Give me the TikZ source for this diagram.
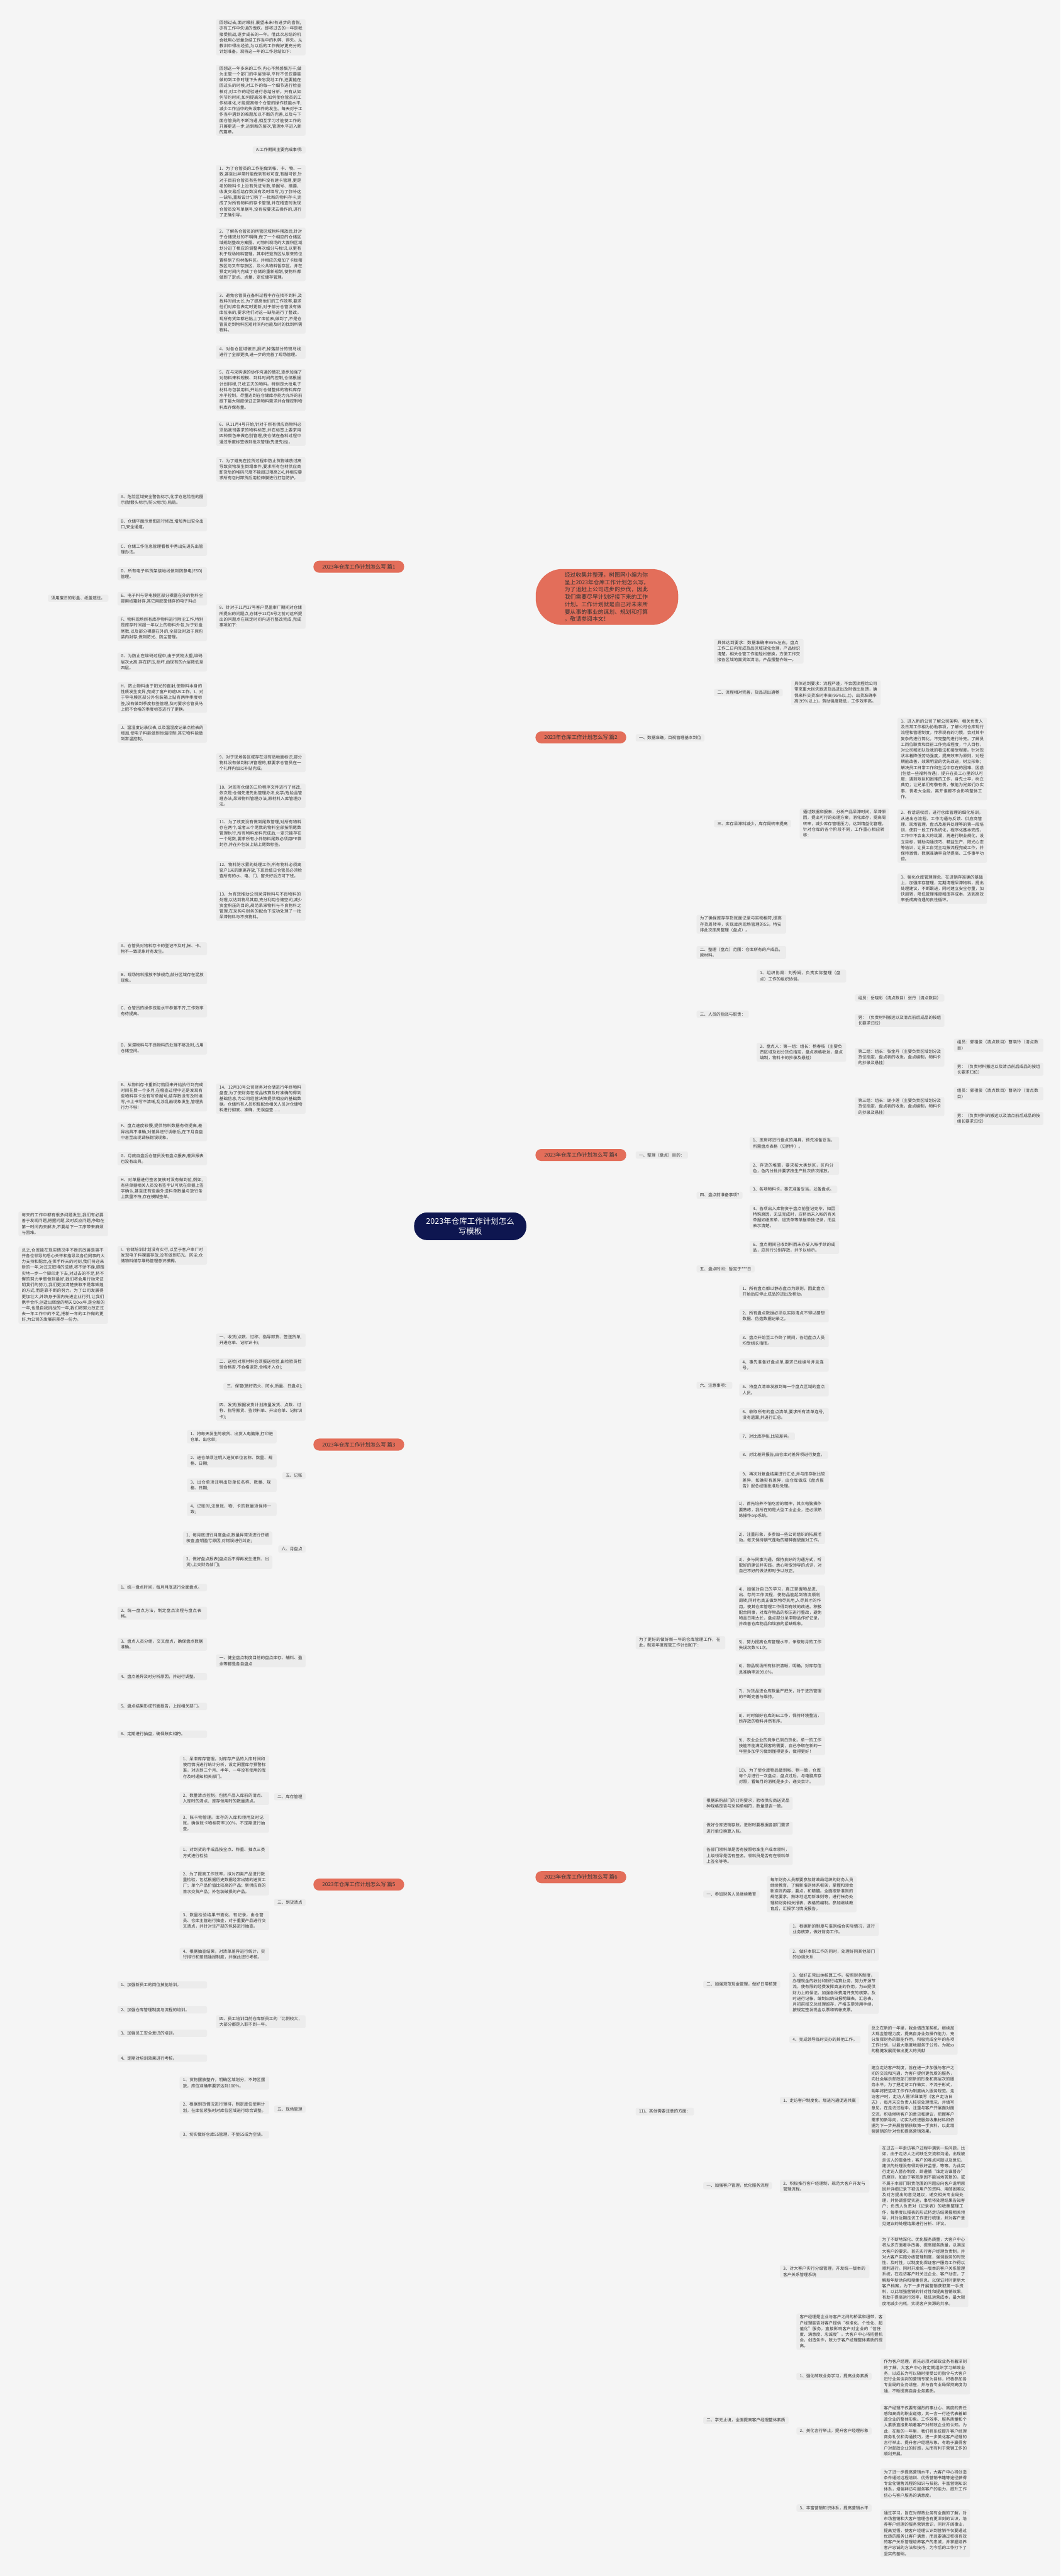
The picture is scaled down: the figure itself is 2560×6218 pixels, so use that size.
\documentclass[tikz,border=0pt]{standalone}
\usepackage{fontspec}
\setmainfont{Noto Sans CJK SC}
\XeTeXlinebreaklocale "zh"
\XeTeXlinebreakskip = 0pt plus 1pt
\usetikzlibrary{calc}
\pgfdeclarelayer{bg}
\pgfsetlayers{bg,main}
\definecolor{bgc}{RGB}{245,245,245}
\definecolor{boxc}{RGB}{236,236,236}
\definecolor{txt}{RGB}{51,51,51}
\definecolor{navy}{RGB}{14,22,80}
\definecolor{salmon}{RGB}{227,110,90}
\definecolor{linec}{RGB}{24,30,76}
\tikzset{
  tl/.style={fill=boxc, rounded corners=2pt, text=txt, font=\fontsize{5}{7}\selectfont, inner xsep=4pt, inner ysep=2pt, align=left},
  tw/.style={tl, text width=100pt},
  conn/.style={draw=linec, line width=1pt, rounded corners=5pt},
  mainln/.style={draw=linec, line width=1.1pt},
  pill/.style={fill=salmon, rounded corners=7pt, text=txt, font=\fontsize{6.3}{8}\selectfont, minimum width=109.5pt, minimum height=14.5pt, inner sep=1pt},
  rootn/.style={fill=navy, rounded corners=16pt, text=white, font=\fontsize{9.5}{12.5}\selectfont, minimum width=135.5pt, minimum height=33.5pt, align=center},
  summ/.style={fill=salmon, rounded corners=32pt, text=txt, font=\fontsize{6.7}{8.9}\selectfont, minimum width=172pt, minimum height=67.5pt, align=left}
}
\newcommand\myR[3]{\draw[conn] (#1.east) -- (#2 |- #1.east) |- (#3.west);}
\newcommand\myL[3]{\draw[conn] (#1.west) -- (#2 |- #1.west) |- (#3.east);}
\begin{document}
\begin{tikzpicture}[x=0.5pt,y=-0.5pt]
\fill[bgc] (0,0) rectangle (2560,6218);
\useasboundingbox (0,0) rectangle (2560,6218);

% bracket x coordinates
\coordinate (bx1) at (747,0);
\coordinate (bxA) at (510,0);
\coordinate (bxC) at (509,0);
\coordinate (bxI) at (272,0);
\coordinate (bx3) at (747,0);
\coordinate (bx3a) at (677,0);
\coordinate (bx3b) at (667,0);
\coordinate (bx5) at (747,0);
\coordinate (bx5a) at (510,0);
\coordinate (bx5b) at (658,0);
\coordinate (bx2a) at (1710,0);
\coordinate (bx2c) at (2155,0);
\coordinate (bx4a) at (1668,0);
\coordinate (bx4c) at (1811,0);
\coordinate (bx4c2) at (2050,0);
\coordinate (bx4c3) at (2289,0);
\coordinate (bx4d) at (1796,0);
\coordinate (bx4f) at (1769,0);
\coordinate (bx6) at (1523,0);
\coordinate (bx6a) at (1760,0);
\coordinate (bx6b) at (1683,0);
\coordinate (bx6e) at (1891,0);
\coordinate (bx6f) at (1871,0);
\coordinate (bx6g) at (1911,0);
\coordinate (bx6g3) at (2115,0);

% root and branches
\node[rootn] (root) at (1135,2960) {2023年仓库工作计划怎么\\写模板};
\node[summ] (sum) at (1465,1441) {经过收集并整理，树图网小编为你\\呈上2023年仓库工作计划怎么写。\\为了追赶上公司进步的步伐，因此\\我们需要尽早计划好接下来的工作\\计划。工作计划就是自己对未来所\\要从事的事业的谋划、规划和打算\\。敬请参阅本文！};
\node[pill] (p1) at (866,1368) {2023年仓库工作计划怎么写 篇1};
\node[pill] (p2) at (1402,1780) {2023年仓库工作计划怎么写 篇2};
\node[pill] (p3) at (866,3487) {2023年仓库工作计划怎么写 篇3};
\node[pill] (p4) at (1402,2788) {2023年仓库工作计划怎么写 篇4};
\node[pill] (p5) at (866,4549) {2023年仓库工作计划怎么写 篇5};
\node[pill] (p6) at (1402,4531) {2023年仓库工作计划怎么写 篇6};

% ---------- 篇1 ----------
\node[tw,anchor=east] (a1) at (738,90) {回想过去,面对眼前,展望未来!有进步的喜悦,亦有工作中失误的愧疚。即将过去的一年是我接受挑战,逐步成长的一年。借此次总结的机会我用心思量总结工作当中的利弊、得失。从教训中得出经验,为以后的工作做好更充分的计划准备。现将这一年的工作总结如下:};
\node[tw,anchor=east] (a2) at (738,242) {回想这一年多来的工作,内心不禁感慨万千,做为主管一个部门的中层领导,平时不仅仅要能做的到工作时埋下头去忘我地工作,还要能在回过头的时候,对工作的每一个细节进行检查核对,对工作的经验进行总结分析。只有从如何节约时间,如何提高效率,如何使仓管员的工作标准化,才能提高每个仓管的操作技能水平,减少工作当中的失误事件的发生。每天对于工作当中遇到的难题加以不断的完善,以及与下面仓管员的不断沟通,相互学习才能使工作的开展更进一步,达到新的层次,管理水平进入新的篇章。};
\node[tl,anchor=east] (a3) at (738,362) {A:工作期间主要完成事项:};
\node[tw,anchor=east] (a4) at (738,463) {1、为了仓管员的工作能做到帐、卡、物、一致,甚至出异常时能做到有帐可查,有据可依,针对于目前仓管员有些物料没有建卡管理,更是老的物料卡上没有凭证号数,单据号、摘要、收发交易后结存数没有及时填写,为了弥补这一缺陷,重新设计订购了一批新的物料存卡,完成了对所有物料的存卡管理,并在稽查时发现仓管员没写单据号,没有按要求去操作的,进行了正确引导。};
\node[tw,anchor=east] (a5) at (738,614) {2、了解各仓管员的所管区域物料摆放后,针对于仓储规划的不明确,做了一个相应的仓储区域规划整改方案图。对物料现场的大面积区域划分进了相应的调整再次细分与标识,以更有利于现场物料管理。其中把退货区从原来的位置移到了包材备料区。并相应的增加了卡板摆放区与叉车存放区、及公共物料暂存区。并在预定时间内完成了仓储的重新规划,使物料都做到了定点、点量、定位储存管理。};
\node[tw,anchor=east] (a6) at (738,755) {3、避免仓管员在备料过程中存在找不到料,及找料时间太长,为了提高他们的工作效率,要求他们对库位表定时更新,对于部分仓管没有做库位表的,要求他们对这一缺陷进行了整改。现所有货架都已贴上了库位表,做到了,不是仓管员走到物料区短时间内也能及时的找到所需物料。};
\node[tw,anchor=east] (a7) at (738,850) {4、对各仓区域破旧,损坏,掉落部分的斑马线进行了全部更换,进一步的完善了现场管理。};
\node[tw,anchor=east] (a8) at (738,941) {5、在与采购课的协作沟通的情况,逐步加强了对物料来料规模、到料时间的控制,仓储根据计划排程,只收五天的物料。特别是大批电子材料与包装用料,开始对仓储整体的物料库存水平控制。尽量达到在仓储库存能力允许的前提下最大限度保证正常物料需求并合理控制物料库存保有量。};
\node[tw,anchor=east] (a9) at (738,1046) {6、从11月4号开始,针对于所有供应商物料必须贴我司要求的物料标签,并在标签上要求用四种颜色来做色别管理,使仓储在备料过程中通过季度标签做到批次管理(先进先出)。};
\node[tw,anchor=east] (a10) at (738,1133) {7、为了避免在拉货过程中防止货物堆放过高导致货物发生倒塌事件,要求所有包材供应商卸货后的堆码尺度不能超过限高2米,并相应要求所有包材卸货后用拉伸膜进行打包防护。};
\node[tw,anchor=east] (a11) at (738,1488) {8、针对于11月27号客户昆盈审厂期间对仓储所提出的问题点,仓储于12月5号之前对这所提出的问题点在规定时间内进行整改完成,完成事项如下:};
\node[tw,anchor=east] (a12) at (738,1841) {9、对于现场各区域存在没有贴地面标识,部分物料没有做到标识管理的,都要求仓管员在一个礼拜内加以补贴完成。};
\node[tw,anchor=east] (a13) at (738,1921) {10、对现有仓储的三阶程序文件进行了修改,依次是:仓储先进先出管理办法,化学/危险品管理办法,呆滞物料管理办法,原材料入库管理办法。};
\node[tw,anchor=east] (a14) at (738,2012) {11、为了改变没有做到尾数管理,对所有物料存在两个,或者三个尾数的物料全部按照尾数管理执行,所有物料发料完成后,一定只能存在一个尾数,要求所有小件物料尾数必须用PE袋封存,并在外包装上贴上尾数标签。};
\node[tw,anchor=east] (a15) at (738,2101) {12、物料防水雾的处理工作,所有物料必须离窗户1米的距离存放,下班后值日仓管员必须检查所有的水、电、门、窗关好后方可下班。};
\node[tw,anchor=east] (a16) at (738,2186) {13、为有效推动公司呆滞物料与不良物料的处理,以达到物尽其用,充分利用仓储空间,减少资金积压的目的,规范呆滞物料与不良物料之管理,在采购与财务的配合下成功处理了一批呆滞物料与不良物料。};
\node[tw,anchor=east] (a17) at (738,2652) {14、12月30号公司财务对仓储进行年终物料盘查,为了使财务在成品核算及时准确的得到基础信息,为公司经营决策提供相应的基础数据。仓储所有人员积极配合相关人员对仓储物料进行彻底、准确、无误盘查......};

\node[tw,anchor=east] (b1) at (500,1207) {A、危险区域安全警告标示,化学仓危险性的图示(骷髅头标示/防火标示),粘贴。};
\node[tw,anchor=east] (b2) at (500,1266) {B、仓储平面示意图进行修改,增加秀出安全出口,安全通道。};
\node[tw,anchor=east] (b3) at (500,1326) {C、仓储工作信息管理看板中秀出先进先出管理办法。};
\node[tw,anchor=east] (b4) at (500,1385) {D、所有电子料货架接地线做到防静电(ESD)管理。};
\node[tw,anchor=east] (b5) at (500,1445) {E、电子料与导电膜区部分裸露在外的物料全部用纸箱封存,其它用胶筐储存的电子料必};
\node[tl,anchor=east] (b5c) at (262,1444) {须用废旧的彩盒、纸盖遮住。};
\node[tw,anchor=east] (b6) at (500,1517) {F、物料现场所有库存物料进行除尘工作,特别是库存时间超一年以上的物料外包,对于彩盒尾数,以及部分裸露在外的,全部及时放于原包装内封存,做到防光、防尘管理。};
\node[tw,anchor=east] (b7) at (500,1598) {G、为防止在堆码过程中,由于货物太重,堆码层次太高,存在挤压,损坏,由现有的六层降低至四层。};
\node[tw,anchor=east] (b8) at (500,1684) {H、防止物料由于阳光的直射,使物料本身的性质发生变异,完成了窗户的遮UV工作。I、对于导电膜区部分外包装箱上贴有两种季度标签,没有做到季度标签管理,及时要求仓管员马上把不合格的季度标签进行了更换。};
\node[tw,anchor=east] (b9) at (500,1770) {J、温湿度记录仪表,以及温湿度记录点检表的增加,使电子料能做到恒温控制,其它物料能做到常温控制。};

\node[tw,anchor=east] (c1) at (500,2290) {A、仓管员对物料存卡的登记不及时,帐、卡、物不一致现象时有发生。};
\node[tw,anchor=east] (c2) at (500,2360) {B、现场物料摆放不够规范,部分区域存在混放现象。};
\node[tw,anchor=east] (c3) at (500,2440) {C、仓管员的操作技能水平参差不齐,工作效率有待提高。};
\node[tw,anchor=east] (c4) at (500,2530) {D、呆滞物料与不良物料的处理不够及时,占用仓储空间。};
\node[tw,anchor=east] (c5) at (500,2646) {E、从物料存卡重新订购回来开始执行到完成时间花费一个多月,在稽查过程中还是发现有些物料存卡没有写单据号,结存数没有及时填写,卡上书写不清晰,乱涂乱画现象发生,管理执行力不够!};
\node[tw,anchor=east] (c6) at (500,2732) {F、盘点速度较慢,提供物料数据有待提高,差异出具不准确,对差异进行调帐后,在下月自盘中甚至出现调帐错误现象。};
\node[tw,anchor=east] (c7) at (500,2797) {G、月底自盘后仓管员没有盘点报表,差异报表也没有出具。};
\node[tw,anchor=east] (c8) at (500,2869) {H、对单据进行签名复核时没有做到位,例如,有些单据相关人员没有签字认可就在单据上签字确认,甚至还有些委外送料单数量与放行条上数量不符,存在模糊签单。};
\node[tw,anchor=east] (c9) at (500,3030) {I、仓储培训计划没有实行,以至于客户审厂时发现电子料裸露存放,没有做到防光、防尘,仓储物料储存堆码管理意识模糊。};
\node[tw,anchor=east] (d1) at (261,2954) {每天的工作中都有很多问题发生,我们有必要善于发现问题,把握问题,及时反应问题,争取在第一时间内去解决,不要给下一工序带来麻烦与困难。};
\node[tw,anchor=east] (d2) at (261,3102) {总之,仓库能在现实情况中不断的改善是离不开各位领导的悉心关怀和指导及各位同事的大力支持和配合,在挥手昨天的时刻,我们将迎来新的一年,对过去取得的成绩,将不骄不躁,脚踏实地一步一个脚印走下去,对过去的不足,将不懈的努力争取做到最好,我们将会用行动来证明我们的努力,我们更加清楚获取不是靠辉煌的方式,而是靠不断的努力。为了公司发展得更加壮大,并跻身于国内先进企业行列,让我们携手合作,创造出辉煌的明天!20xx年,是全新的一年,也是自我挑战的一年,我们将努力改正过去一年工作中的不足,把新一年的工作做的更好,为公司的发展前景尽一份力。};

% ---------- 篇3 ----------
\node[tw,anchor=east] (e1) at (738,3235) {一、收货(点数、过称、指导卸货、签送货单,开进仓单、记标识卡);};
\node[tw,anchor=east] (e2) at (738,3294) {二、送检(对原材料仓须报送检验,由检验员检验合格否,不合格退货,合格才入仓);};
\node[tl,anchor=east] (e3) at (738,3347) {三、保管(做好防火、防水,质量、日盘点);};
\node[tw,anchor=east] (e4) at (738,3406) {四、发货(根据发货计划按量发货、点数、过称、指导搬货、签领料单、开出仓单、记标识卡);};
\node[tl,anchor=east] (e5) at (738,3562) {五、记账};
\node[tl,anchor=east] (e6) at (738,3739) {六、月盘点};
\node[tw,anchor=east] (e5a) at (668,3468) {1、将每天发生的收货、出货入电脑账,打印进仓单、出仓单;};
\node[tw,anchor=east] (e5b) at (668,3526) {2、进仓单须注明入送货单位名称、数量、规格、日期;};
\node[tw,anchor=east] (e5c) at (668,3585) {3、出仓单须注明出货单位名称、数量、规格、日期;};
\node[tw,anchor=east] (e5d) at (668,3643) {4、记账时,注意账、物、卡的数量须保持一致;};
\node[tw,anchor=east] (e6a) at (658,3713) {1、每月底进行月度盘点,数量异常须进行仔细核查,查明盈亏原因,对错误进行纠正;};
\node[tw,anchor=east] (e6b) at (658,3771) {2、做好盘点报表(盘点后不得再发生进货、出货),上交财务部门);};

% ---------- 篇5 ----------
\node[tw,anchor=east] (f1) at (738,4009) {一、健全盘点制度目前的盘点库存、辅料、盈余等都是各自盘点};
\node[tl,anchor=east] (f2) at (738,4337) {二、库存管理};
\node[tl,anchor=east] (f3) at (738,4592) {三、到货清点};
\node[tw,anchor=east] (f4) at (738,4880) {四、员工培训目前仓库新员工的`比例较大，大部分都是入职不到一年。};
\node[tl,anchor=east] (f5) at (738,5091) {五、现场管理};
\node[tw,anchor=east] (f1a) at (500,3832) {1、统一盘点时间，每月月底进行全面盘点。};
\node[tw,anchor=east] (f1b) at (500,3894) {2、统一盘点方法，制定盘点流程与盘点表格。};
\node[tw,anchor=east] (f1c) at (500,3969) {3、盘点人员分组，交叉盘点，确保盘点数据准确。};
\node[tw,anchor=east] (f1d) at (500,4047) {4、盘点差异及时分析原因，并进行调整。};
\node[tw,anchor=east] (f1e) at (500,4119) {5、盘点结果形成书面报告，上报相关部门。};
\node[tw,anchor=east] (f1f) at (500,4186) {6、定期进行抽盘，确保账实相符。};
\node[tw,anchor=east] (f2a) at (650,4267) {1、呆滞库存管理。对库存产品的入库时间和使用情况进行统计分析，设定闲置库存预警标准，对达到三个月、半年、一年没有使用的库存及时通知相关部门。};
\node[tw,anchor=east] (f2b) at (650,4341) {2、数量清点控制。包括产品入库前的清点、入库时的清点、库存领用时的数量清点。};
\node[tw,anchor=east] (f2c) at (650,4401) {3、账卡物管理。库存的入库和领用及时记账，确保账卡物相符率100\%，不定期进行抽查。};
\node[tw,anchor=east] (f3a) at (650,4472) {1、对到货的半成品按全点、称重、抽点三类方式进行检验};
\node[tw,anchor=east] (f3b) at (650,4545) {2、为了提高工作效率，拟对四类产品进行数量检验，包括根据历史数据经常出错的送货工厂；单个产品价值比较高的产品；新供应商的首次交货产品；外包装破损的产品。};
\node[tw,anchor=east] (f3c) at (650,4636) {3、数量检验结果书面化，有记录，由仓管员、仓库主管进行抽查，对于重要产品进行交叉清点，并针对生产部的包装进行抽查。};
\node[tw,anchor=east] (f3d) at (650,4717) {4、根据抽查结果，对清单差异进行统计，实行排行和差错通报制度，并据此进行考核。};
\node[tw,anchor=east] (f4a) at (500,4791) {1、加强新员工的岗位技能培训。};
\node[tw,anchor=east] (f4b) at (500,4851) {2、加强仓库管理制度与流程的培训。};
\node[tw,anchor=east] (f4c) at (500,4908) {3、加强员工安全意识的培训。};
\node[tw,anchor=east] (f4d) at (500,4968) {4、定期对培训效果进行考核。};
\node[tw,anchor=east] (f5a) at (650,5028) {1、货物摆放整齐，明确区域划分，不跨区摆放，库位准确率要求达到100\%。};
\node[tw,anchor=east] (f5b) at (650,5087) {2、根据到货情况进行预排，制定库位使用计划，在库位紧张时对库位区域进行综合调整。};
\node[tw,anchor=east] (f5c) at (650,5153) {3、切实做好仓库5S管理，不使5S成为空谈。};

% ---------- 篇2 ----------
\node[tl,anchor=west] (g1) at (1534,1781) {一、数据准确，目视管理基本到位};
\node[tw,anchor=west] (g1a) at (1723,1572) {具体达到要求：数据准确率95\%左右，盘点工作二日内完成货品区域规化合理，产品标识清楚，相关仓管工作能轻松替换，方便工作交接各区域地面货架清洁，产品摆整齐统一。};
\node[tl,anchor=west] (g1b) at (1723,1672) {二、流程相对完善，货品进出通畅};
\node[tw,anchor=west] (g1b1) at (1909,1672) {具体达到要求：流程严谨，不会因流程给公司带来重大损失跟进货品进出及时做出反馈，确保来料交货准时率高(95\%以上)，出货准确率高(99\%以上)，劳动强度降低，工作效率高。};
\node[tl,anchor=west] (g1c) at (1723,1988) {三、库存呆滞料减少，库存周转率提高};
\node[tw,anchor=west] (g1c1) at (1930,1988) {通过数据和报表，分析产品呆滞时间，呆滞原因，提出可行的处理方案，消化库存，提高周转率，减少库存管理压力，达到精益化管理。针对仓库的各个阶段不同，工作重心相应转移：};
\node[tw,anchor=west] (g1c1a) at (2166,1832) {1、进入新的公司了解公司架构，相关负责人及日常工作相为协助事项，了解公司仓库现行流程和管理制度，传承现有的习惯，会对其中复杂的进行简化，不完整的进行补充。了解员工岗位职责和目前工作完成程度，个人目标，对公司和团队及我的看法和接受程度。针对现状本着降低劳动强度，提高效率为原则，对短期能改善，效果明显的优先改进，树立形象；解决员工日常工作和生活中存在的困难、困惑(包括一些福利待遇)，提升在员工心里的认可度；遇到艰巨和困难的工作，身先士卒，树立典范；让兄弟们有敬有畏，敬能为兄弟们办实事，畏老大全能，离开谁都不会影响整体工作。};
\node[tw,anchor=west] (g1c1b) at (2166,2018) {2、有话语权后，进行仓库管理的细化培训，从进出仓流程、工作沟通与反馈、供应商管理、现场管理，盘点及差异处理等的第一段培训，使前一段工作系统化，程序化基本完成，工作中不会出大的纰漏，再进行职业规化，设立目标，辅助沟通技巧、精益生产、阳光心态等培训，让员工自觉主动按流程完成工作，并保持激情。数据准确率自然提高、工作事半功倍。};
\node[tw,anchor=west] (g1c1c) at (2166,2145) {3、强化仓库管理理念，在进销存准确的基础上，加强库存管理，定期清理呆滞物料，提出处理建议，不断跟进，同时建立安全存量，加快周转，降低管理难度和库存成本，达到高效率低成高待遇的良性循环。};

% ---------- 篇4 ----------
\node[tl,anchor=west] (h1) at (1534,2788) {一、整理（盘点）目的：};
\node[tw,anchor=west] (h1a) at (1681,2231) {为了确保库存存货账面记录与实物相符,提高存货周转率，实现库房现场管理的5S，特安排此次库房整理（盘点）。};
\node[tw,anchor=west] (h1b) at (1681,2299) {二、整理（盘点）范围：仓库所有的产成品，原材料。};
\node[tl,anchor=west] (h1c) at (1681,2448) {三、人员的指派与职责：};
\node[tw,anchor=west] (h1c1) at (1826,2356) {1、组织协调：刘秀娟，负责实际整理（盘点）工作的组织协调。};
\node[tw,anchor=west] (h1c2) at (1826,2540) {2、盘点人：第一组：组长：杨春枝（主要负责区域及划分货位指定，盘点表格收发，盘点编制，物料卡的抄录及悬挂）};
\node[tw,anchor=west] (h1c2a) at (2063,2409) {组员：岳晓彩（清点数目）张丹（清点数目）};
\node[tw,anchor=west] (h1c2b) at (2063,2463) {男：（负责材料搬运以及清点前后成品的按组长要求归位）};
\node[tw,anchor=west] (h1c2c) at (2063,2552) {第二组：组长：张金丹（主要负责区域划分及货位指定，盘点表的收发，盘点编制，物料卡的抄录及悬挂）};
\node[tw,anchor=west] (h1c2c1) at (2302,2523) {组员：郭祖俊（清点数目）曹晓玲（清点数目）};
\node[tw,anchor=west] (h1c2c2) at (2302,2581) {男：（负责材料搬运以及清点前后成品的按组长要求归位）};
\node[tw,anchor=west] (h1c2d) at (2063,2671) {第三组：组长：谢小莲（主要负责区域划分及货位指定，盘点表的收发，盘点编制，物料卡的抄录及悬挂）};
\node[tw,anchor=west] (h1c2d1) at (2302,2640) {组员：郭祖俊（清点数目）曹晓玲（清点数目）};
\node[tw,anchor=west] (h1c2d2) at (2302,2700) {男：（负责材料的搬运以及清点前后成品的按组长要求归位）};
\node[tl,anchor=west] (h1d) at (1681,2885) {四、盘点前准备事项?};
\node[tw,anchor=west] (h1d1) at (1809,2760) {1、库房将进行盘点的用具，预先准备妥当，所需盘点表格（见附件）。};
\node[tw,anchor=west] (h1d2) at (1809,2820) {2、存货的堆置，要求按大类划区，区内分色，色内分批并要求按生产批次依次摆放。};
\node[tl,anchor=west] (h1d3) at (1809,2871) {3、各项物料卡，事先准备妥当，以备盘点。};
\node[tw,anchor=west] (h1d4) at (1809,2938) {4、各项出入库物资于盘点前登记完毕，如因特殊原因，无法完成时，应将尚未入帐的有关单据如缴库单、退货单等单据单独记录，而且表示清楚。};
\node[tw,anchor=west] (h1d6) at (1809,3011) {6、盘点期间已收到料而未办妥入帐手续的成品，应另行分别存放，并予以标示。};
\node[tl,anchor=west] (h1e) at (1681,3063) {五、盘点时间：暂定于***日};
\node[tl,anchor=west] (h1f) at (1681,3344) {六、注意事项：};
\node[tw,anchor=west] (h1f1) at (1784,3117) {1、所有盘点都以静态盘点为原则，因此盘点开始后应停止成品的进出及移动。};
\node[tw,anchor=west] (h1f2) at (1784,3176) {2、所有盘点数据必须以实际清点不得以猜想数据、伪造数据记录之。};
\node[tw,anchor=west] (h1f3) at (1784,3236) {3、盘点开始至工作终了期间，各组盘点人员均受组长指挥。};
\node[tw,anchor=west] (h1f4) at (1784,3295) {4、事先准备好盘点单,要求已经编号并且连号。};
\node[tw,anchor=west] (h1f5) at (1784,3355) {5、将盘点清单发放到每一个盘点区域的盘点人员。};
\node[tw,anchor=west] (h1f6) at (1784,3415) {6、收取所有的盘点清单,要求所有清单连号,没有遗漏,并进行汇总。};
\node[tl,anchor=west] (h1f7) at (1784,3467) {7、对比库存帐,比较差异。};
\node[tl,anchor=west] (h1f8) at (1784,3512) {8、对比差异报告,由仓库对差异项进行复盘。};
\node[tw,anchor=west] (h1f9) at (1784,3573) {9、再次对复盘结果进行汇总,并与库存帐比较差异，如确实有差异，由仓库做成《盘点报告》报总经理批准后处理。};

% ---------- 篇6 ----------
\node[tw,anchor=west] (i1) at (1534,3965) {为了更好的做好新一年的仓库管理工作，在此，制定年度库管工作计划如下：};
\node[tw,anchor=west] (i11) at (1775,3645) {1)、首先培养不怕吃苦的精神，其次电脑操作要熟练，我所在的是大型工业企业，还必须熟练操作erp系统。};
\node[tw,anchor=west] (i12) at (1775,3711) {2)、注重形象，多参加一些公司组织的拓展活动，每天保持朝气蓬勃的精神面貌面对工作。};
\node[tw,anchor=west] (i13) at (1775,3778) {3)、多与同事沟通，保持良好的沟通方式，听取好的建议并实践。悉心听取领导的点评，对自己不好的做法即时予以改正。};
\node[tw,anchor=west] (i14) at (1775,3878) {4)、加强对自己的学习，真正掌握物品进、出、存的工作流程，使物品能起到物流顺利周转,同时也真正做到物尽其用,人尽其才的作用。使其仓库管理工作得到有效的改进。积极配合同事，对库存物品的积压进行整改，避免物品日期太长，盘点部分呆滞物品作好记录，并改善仓库物品和堆放的紧缺现象。};
\node[tw,anchor=west] (i15) at (1775,3970) {5)、努力提高仓库管理水平，争取每月的工作失误次数≤1次。};
\node[tw,anchor=west] (i16) at (1775,4029) {6)、物品现场所有标识清晰，明确，对库存信息准确率达99.8\%。};
\node[tw,anchor=west] (i17) at (1775,4089) {7)、对货品进仓库数量严把关，对于进货管理的不断完善与维持。};
\node[tw,anchor=west] (i18) at (1775,4148) {8)、时时做好仓库的6s工作，保持环境整洁，所存放的物料井然有序。};
\node[tw,anchor=west] (i19) at (1775,4214) {9)、农业企业的竞争已到白热化，单一的工作技能不能满足顾客的需要，自己争取在新的一年里多加学习做到懂得更多，做得更好！};
\node[tw,anchor=west] (i110) at (1775,4287) {10)、为了使仓库物品做到帐、物一致，仓库每个月进行一次盘点，盘点过后，与电脑库存对照，看每月的消耗是多少，递交会计。};
\node[tl,anchor=west] (i2) at (1534,5097) {11)、其他需要注意的方面：};
\node[tw,anchor=west] (i2a) at (1697,4353) {根据采购部门的订购要求，验收供应商送货品种规格是否与采购单相符，数量是否一致。};
\node[tw,anchor=west] (i2b) at (1697,4413) {做好仓库进销存账。进账时要根据各部门需求进行单位换算入账。};
\node[tw,anchor=west] (i2c) at (1697,4479) {各部门领料单是否有按照标准生产成本领料，上级领导是否有签名。领料员是否有在领料单上签名等等。};
\node[tl,anchor=west] (i2d) at (1697,4572) {一、参加财务人员继续教育};
\node[tw,anchor=west] (i2d1) at (1851,4572) {每年财务人员都要参加财政局组织的财务人员继续教育，了解新准则体系框架，掌握和领会新准则内容，要点，和精髓。全面按新准则的规范要求，熟练地运用新准则等，进行帐务处理和财务相关报表、表格的编制。参加继续教育后，汇报学习情况报告。};
\node[tl,anchor=west] (i2e) at (1697,4790) {二、加强规范现金管理，做好日常核算};
\node[tw,anchor=west] (i2e1) at (1905,4657) {1、根据新的制度与准则结合实际情况，进行业务核算，做好财务工作。};
\node[tw,anchor=west] (i2e2) at (1905,4717) {2、做好本职工作的同时，处理好同其他部门的协调关系.};
\node[tw,anchor=west] (i2e3) at (1905,4810) {3、做好正常出纳核算工作。按照财务制度，办理现金的收付和银行结算业务，努力开源节流，使有限的经费发挥真正的作用。为xx提供财力上的保证。加强各种费用开支的核算。及时进行记帐，编制出纳日报明细表，汇总表，月初前报交总经理留存，严格支票领用手续，按规定签发现金以票和转帐支票。};
\node[tl,anchor=west] (i2e4) at (1905,4923) {4、完成领导临时交办的其他工作。};
\node[tw,anchor=west] (i2e41) at (2095,4923) {总之在新的一年里，我会借改革契机，继续加大现金管理力度，提高自身业务操作能力，充分发挥财务的职能作用，积极完成全年的各项工作计划，以最大限度地服务于公司。为我xx的稳健发展而做出更大的贡献};
\node[tl,anchor=west] (i2f) at (1697,5276) {一、加强客户管理，优化服务流程};
\node[tl,anchor=west] (i2f1) at (1882,5070) {1、走访客户制度化，增进沟通促进共赢};
\node[tw,anchor=west] (i2f1a) at (2095,5068) {建立走访客户制度，旨在进一步加强与客户之间的交流和沟通，为客户提供更优质的服务，向社会展示邮政部门崭新的形象和高层次的服务水平。为了把走访工作做实，不流于形式，明年将把这项工作作为制度纳入服务规范。走访客户时，走访人需详细填写《客户走访日志》，每月末交负责人核实处理情况，并填写意见。在走访过程中，注重与客户开展面对面交流，积极倾听客户的意见和建议，把握客户需求的新导向，切实为改进服务收集材料和依据为下一步开展营销获取第一手资料，以此增强营销的针对性和提高营销效果。};
\node[tw,anchor=west] (i2f2) at (1882,5277) {2、积极推行客户经理制，规范大客户开发与管理流程。};
\node[tw,anchor=west] (i2f2a) at (2121,5277) {在过去一年走访客户过程中遇到一些问题，比如，由于走访人之间缺乏交流和沟通，出现被走访人的重叠性，客户的难点问题以及意见、建议的处理没有得到很好监督，等等。为此实行走访人督办制度，即遵循“谁走访谁督办”的原则，如由于客观原因不能当场答复的，或不属于本部门职责范围的问题应向客户说明原因并详细记录下被访用户的资料、用邮困难以及对方提出的意见建议，递交相关专业局处理，并协调督促实施，事后将处理结果告知客户；负责人负责对《记录表》的收集整理工作，每季度以报表的形式将走访结果报相关领导，并对近期走访工作进行梳理，并对客户意见建议的处理结果进行分析、评议。};
\node[tw,anchor=west] (i2f3) at (1882,5483) {3、对大客户实行分级管理，开发统一版本的客户关系管理系统};
\node[tw,anchor=west] (i2f3a) at (2121,5483) {为了不断地深化、优化服务质量，大客户中心将从多方面着手改善、提高服务质量，以满足大客户的要求。首先实行客户经理负责制，并对大客户实施分级管理制度，强调服务的时效性、及时性，以制度化保证客户服务工作得以顺利进行。同时开发统一版本的客户关系管理系统，在走访客户时关注企业、客户动态，了解新年新动向和搜集信息，以保证时时更新大客户档案，为下一步开展营销获取第一手资料，以此增强营销的针对性和提高营销效果，有助于提高运行效率，降低运营成本，最大限度地减少内耗，实现客户资源的共享。};
\node[tl,anchor=west] (i2g) at (1697,5842) {二、学无止境，全面提高客户经理整体素质};
\node[tw,anchor=west] (i2g0) at (1922,5628) {客户经理是企业与客户之间的桥梁和纽带，客户经理能否对客户提供“标准化、个性化、超值化”服务，直接影响客户对企业的“信任度、满意度、忠诚度”。大客户中心将把握机会，创造条件，致力于客户经理整体素质的提高。};
\node[tl,anchor=west] (i2g1) at (1922,5736) {1、强化邮政业务学习，提高业务素质};
\node[tw,anchor=west] (i2g1a) at (2125,5736) {作为客户经理，首先必须对邮政业务有着深刻的了解，大客户中心将定期组织学习邮政业务，以成长为可以随时接受公司指令与大客户进行业务谈判的营销专家为目标，积极参加各专业局的业务讲座，并与各专业局保持高度沟通，不断提高自身业务素质。};
\node[tl,anchor=west] (i2g2) at (1922,5868) {2、美化言行举止，提升客户经理形象};
\node[tw,anchor=west] (i2g2a) at (2125,5868) {客户经理不仅要有强烈的事业心、高度的责任感和高尚的职业道德，其一言一行还代表着邮政企业的整体形象。工作效率、服务质量和个人素质直接影响着客户对邮政企业的认知。为此，在新的一年里，我们将系统提升客户经理商务礼仪和沟通技巧，进一步美化客户经理的言行举止、提升客户经理形象，有助于赢得客户对邮政企业的好感，从而有利于营销工作的顺利开展。};
\node[tl,anchor=west] (i2g3) at (1922,6054) {3、丰富营销知识体系，提高营销水平};
\node[tw,anchor=west] (i2g3a) at (2125,5995) {为了进一步提高营销水平，大客户中心将创造条件通过远程培训、优秀营销书籍等途径获得专业化销售流程的知识与技能，丰富营销知识体系，增强拜访与服务客户的能力，提升工作信心与客户服务的满意度。};
\node[tw,anchor=west] (i2g3b) at (2125,6115) {通过学习，旨在对邮政业务有全面的了解，对市场营销和大客户管理也有更深刻的认识，培养客户经理的服务营销意识，同时开阔事业，提高觉悟，使客户经理认识到营销不仅要通过优质的服务让客户满意，而且要通过积极有效的客户关系管理培养客户的忠诚，并掌握培养客户忠诚的方法和技巧，为今后的工作打下了坚实的基础。};

% ---------- connectors ----------
\begin{pgfonlayer}{bg}
\draw[mainln] (root.center) .. controls (1135,2160) and (1135,1368) .. (p1.east);
\draw[mainln] (root.center) .. controls (1135,2200) and (1135,1441) .. (sum.west);
\draw[mainln] (root.center) .. controls (1135,2370) and (1135,1780) .. (p2.west);
\draw[mainln] (root.center) .. controls (1135,2874) and (1135,2788) .. (p4.west);
\draw[mainln] (root.center) .. controls (1135,3220) and (1135,3487) .. (p3.east);
\draw[mainln] (root.center) .. controls (1135,3750) and (1135,4549) .. (p5.east);
\draw[mainln] (root.center) .. controls (1135,3745) and (1135,4531) .. (p6.west);

\foreach \c in {a1,a2,a3,a4,a5,a6,a7,a8,a9,a10,a11,a12,a13,a14,a15,a16,a17} {\myL{p1}{bx1}{\c}}
\foreach \c in {b1,b2,b3,b4,b5,b6,b7,b8,b9} {\myL{a11}{bxA}{\c}}
\draw[conn] (b5.west) -- (b5c.east);
\foreach \c in {c1,c2,c3,c4,c5,c6,c7,c8,c9} {\myL{a17}{bxC}{\c}}
\foreach \c in {d1,d2} {\myL{c9}{bxI}{\c}}

\foreach \c in {e1,e2,e3,e4,e5,e6} {\myL{p3}{bx3}{\c}}
\foreach \c in {e5a,e5b,e5c,e5d} {\myL{e5}{bx3a}{\c}}
\foreach \c in {e6a,e6b} {\myL{e6}{bx3b}{\c}}

\foreach \c in {f1,f2,f3,f4,f5} {\myL{p5}{bx5}{\c}}
\foreach \c in {f1a,f1b,f1c,f1d,f1e,f1f} {\myL{f1}{bx5a}{\c}}
\foreach \c in {f2a,f2b,f2c} {\myL{f2}{bx5b}{\c}}
\foreach \c in {f3a,f3b,f3c,f3d} {\myL{f3}{bx5b}{\c}}
\foreach \c in {f4a,f4b,f4c,f4d} {\myL{f4}{bx5a}{\c}}
\foreach \c in {f5a,f5b,f5c} {\myL{f5}{bx5b}{\c}}

\draw[conn] (p2.east) -- (g1.west);
\foreach \c in {g1a,g1b,g1c} {\myR{g1}{bx2a}{\c}}
\draw[conn] (g1b.east) -- (g1b1.west);
\draw[conn] (g1c.east) -- (g1c1.west);
\foreach \c in {g1c1a,g1c1b,g1c1c} {\myR{g1c1}{bx2c}{\c}}

\draw[conn] (p4.east) -- (h1.west);
\foreach \c in {h1a,h1b,h1c,h1d,h1e,h1f} {\myR{h1}{bx4a}{\c}}
\foreach \c in {h1c1,h1c2} {\myR{h1c}{bx4c}{\c}}
\foreach \c in {h1c2a,h1c2b,h1c2c,h1c2d} {\myR{h1c2}{bx4c2}{\c}}
\foreach \c in {h1c2c1,h1c2c2} {\myR{h1c2c}{bx4c3}{\c}}
\foreach \c in {h1c2d1,h1c2d2} {\myR{h1c2d}{bx4c3}{\c}}
\foreach \c in {h1d1,h1d2,h1d3,h1d4,h1d6} {\myR{h1d}{bx4d}{\c}}
\foreach \c in {h1f1,h1f2,h1f3,h1f4,h1f5,h1f6,h1f7,h1f8,h1f9} {\myR{h1f}{bx4f}{\c}}

\foreach \c in {i1,i2} {\myR{p6}{bx6}{\c}}
\foreach \c in {i11,i12,i13,i14,i15,i16,i17,i18,i19,i110} {\myR{i1}{bx6a}{\c}}
\foreach \c in {i2a,i2b,i2c,i2d,i2e,i2f,i2g} {\myR{i2}{bx6b}{\c}}
\draw[conn] (i2d.east) -- (i2d1.west);
\foreach \c in {i2e1,i2e2,i2e3,i2e4} {\myR{i2e}{bx6e}{\c}}
\draw[conn] (i2e4.east) -- (i2e41.west);
\foreach \c in {i2f1,i2f2,i2f3} {\myR{i2f}{bx6f}{\c}}
\draw[conn] (i2f1.east) -- (i2f1a.west);
\draw[conn] (i2f2.east) -- (i2f2a.west);
\draw[conn] (i2f3.east) -- (i2f3a.west);
\foreach \c in {i2g0,i2g1,i2g2,i2g3} {\myR{i2g}{bx6g}{\c}}
\draw[conn] (i2g1.east) -- (i2g1a.west);
\draw[conn] (i2g2.east) -- (i2g2a.west);
\foreach \c in {i2g3a,i2g3b} {\myR{i2g3}{bx6g3}{\c}}
\end{pgfonlayer}
\end{tikzpicture}
\end{document}
